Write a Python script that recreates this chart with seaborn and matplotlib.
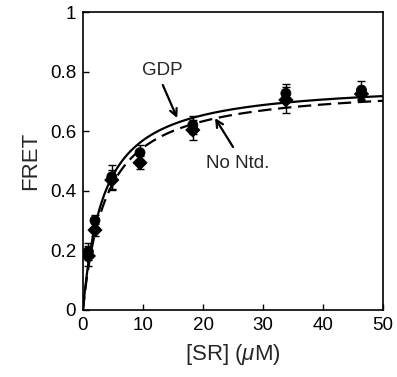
import numpy as np
import pandas as pd
import matplotlib
matplotlib.use("Agg")
import matplotlib.pyplot as plt
import seaborn as sns

# Data
sr_conc = [0.9, 2.0, 4.8, 9.5, 18.3, 33.8, 46.4]
fret_gdp = [0.196, 0.300, 0.447, 0.528, 0.621, 0.727, 0.738]
err_gdp = [0.03, 0.02, 0.04, 0.025, 0.03, 0.03, 0.03]
fret_nontd = [0.181, 0.268, 0.436, 0.494, 0.604, 0.705, 0.725]
err_nontd = [0.033, 0.02, 0.035, 0.022, 0.035, 0.045, 0.02]

# Fit parameters (hyperbolic binding)
fit_gdp = {"Bmax": 0.768, "Kd": 3.49}
fit_nontd = {"Bmax": 0.757, "Kd": 3.9}

sns.set_style("ticks")
plt.rcParams['font.family'] = ['Liberation Sans', 'DejaVu Sans']
plt.rcParams['mathtext.fontset'] = 'custom'
plt.rcParams['mathtext.it'] = 'Liberation Sans:italic'
plt.rcParams['mathtext.rm'] = 'Liberation Sans'

fig = plt.figure(figsize=(3.97, 3.77), dpi=100)
ax = fig.add_axes([0.209, 0.178, 0.756, 0.790])

xs = np.linspace(0, 50, 400)
curves = pd.DataFrame({
    "x": np.concatenate([xs, xs]),
    "y": np.concatenate([fit_gdp["Bmax"] * xs / (fit_gdp["Kd"] + xs),
                         fit_nontd["Bmax"] * xs / (fit_nontd["Kd"] + xs)]),
    "cond": ["GDP"] * len(xs) + ["No Ntd."] * len(xs),
})
sns.lineplot(data=curves, x="x", y="y", hue="cond", style="cond",
             palette=["black", "black"], dashes=[(1, 0), (6, 3)],
             linewidth=1.6, legend=False, ax=ax)

ax.errorbar(sr_conc, fret_nontd, yerr=err_nontd, fmt="none", ecolor="black",
            elinewidth=1, capsize=3)
ax.errorbar(sr_conc, fret_gdp, yerr=err_gdp, fmt="none", ecolor="black",
            elinewidth=1, capsize=3)
pts = pd.DataFrame({"x": sr_conc * 2, "y": fret_nontd + fret_gdp,
                    "cond": ["No Ntd."] * 7 + ["GDP"] * 7})
sns.scatterplot(data=pts, x="x", y="y", style="cond", markers={"No Ntd.": "D", "GDP": "o"},
                color="black", s=52, edgecolor="black", legend=False, ax=ax, zorder=3)

ax.set_xlim(0, 50)
ax.set_ylim(0, 1)
ax.set_xticks([0, 10, 20, 30, 40, 50])
ax.set_yticks([0, 0.2, 0.4, 0.6, 0.8, 1])
ax.set_yticklabels(["0", "0.2", "0.4", "0.6", "0.8", "1"])
ax.tick_params(direction="in", length=4, width=1, labelsize=13.5, colors="black", pad=5)
for s in ax.spines.values():
    s.set_visible(True)
    s.set_linewidth(1.2)
    s.set_color("black")
ax.set_xlabel(r"[SR] ($\mu$M)", fontsize=16, labelpad=6)
ax.set_ylabel("FRET", fontsize=16, labelpad=6)

arrow = dict(arrowstyle="->, head_length=0.5, head_width=0.25", color="black", lw=1.6,
             shrinkA=0, shrinkB=0)
ax.text(13.2, 0.805, "GDP", fontsize=13.5, ha="center", va="center")
ax.annotate("", xy=(15.7, 0.644), xytext=(13.3, 0.755), arrowprops=arrow)
ax.text(25.8, 0.493, "No Ntd.", fontsize=13.5, ha="center", va="center")
ax.annotate("", xy=(22.0, 0.644), xytext=(25.0, 0.547), arrowprops=arrow)

fig.savefig("out.png", dpi=100)
